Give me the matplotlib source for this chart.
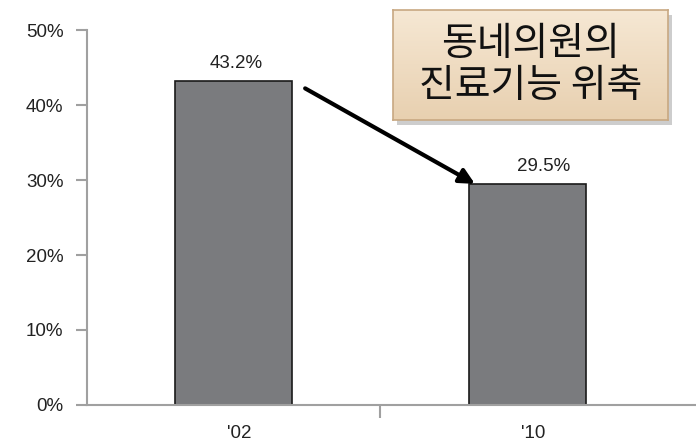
import numpy as np
import matplotlib.pyplot as plt
from matplotlib.patches import Rectangle

plt.rcParams["font.family"] = ["Liberation Sans", "Noto Sans CJK KR", "DejaVu Sans"]

# 데이터
years = ["'02", "'10"]
share = [43.2, 29.5]
value_labels = ["43.2%", "29.5%"]
yticks = [0, 10, 20, 30, 40, 50]
note = "동네의원의\n진료기능 위축"

fig = plt.figure(figsize=(6.96, 4.48), dpi=100)
ax = fig.add_axes([0.125, 0.096, 0.875, 0.837])

x = np.arange(len(years))
ax.bar(x, share, width=0.40, color="#7a7b7e", edgecolor="#1a1a1a", linewidth=1.2, zorder=2)

ax.set_ylim(0, 50)
ax.set_xlim(-0.5, 1.575)
ax.set_yticks(yticks)
ax.set_yticklabels([f"{v}%" for v in yticks], fontsize=13.5, color="#222222")
ax.set_xticks([0.5])
ax.set_xticklabels([""])
ax.tick_params(axis="y", length=8, width=1.5, color="#a0a0a0", pad=9)
ax.tick_params(axis="x", length=9, width=1.5, color="#a0a0a0")
for i, lab in enumerate(years):
    ax.text(x[i] + 0.02, -3.8, lab, ha="center", va="center", fontsize=13.5, color="#222222")

for s in ["top", "right"]:
    ax.spines[s].set_visible(False)
for s in ["left", "bottom"]:
    ax.spines[s].set_color("#a0a0a0")
    ax.spines[s].set_linewidth(1.5)

# 값 표시
offsets = [0.01, 0.055]
for i, v in enumerate(share):
    ax.text(x[i] + offsets[i], v + 1.2, value_labels[i], ha="center", va="bottom",
            fontsize=13.5, color="#222222")

# 화살표
ax.annotate("", xy=(0.83, 29.3), xytext=(0.235, 42.4),
            arrowprops=dict(arrowstyle="-|>,head_length=0.9,head_width=0.45",
                            color="black", lw=3), zorder=3)

# 설명 박스 (그라데이션 + 그림자)
bx, by, bw, bh = 0.565, 0.732, 0.395, 0.246
shadow = Rectangle((bx + 0.006, by - 0.012), bw, bh, transform=fig.transFigure,
                   facecolor="#b8b8b8", edgecolor="none", alpha=0.7, zorder=1)
fig.patches.append(shadow)
bax = fig.add_axes([bx, by, bw, bh])
bax.set_zorder(5)
grad = np.linspace(0, 1, 100).reshape(-1, 1)
c_top = np.array([246, 232, 212]) / 255
c_bot = np.array([232, 208, 176]) / 255
img = c_top[None, None, :] * (1 - grad[:, :, None]) + c_bot[None, None, :] * grad[:, :, None]
bax.imshow(img, aspect="auto", extent=[0, 1, 0, 1])
bax.set_xticks([])
bax.set_yticks([])
for s in bax.spines.values():
    s.set_color("#c8a882")
    s.set_linewidth(1.2)
bax.text(0.5, 0.5, note, ha="center", va="center", fontsize=28, fontweight="medium",
         family=["Noto Sans CJK KR", "DejaVu Sans"], color="#111111", linespacing=1.05)

fig.savefig("out.png", dpi=100)
